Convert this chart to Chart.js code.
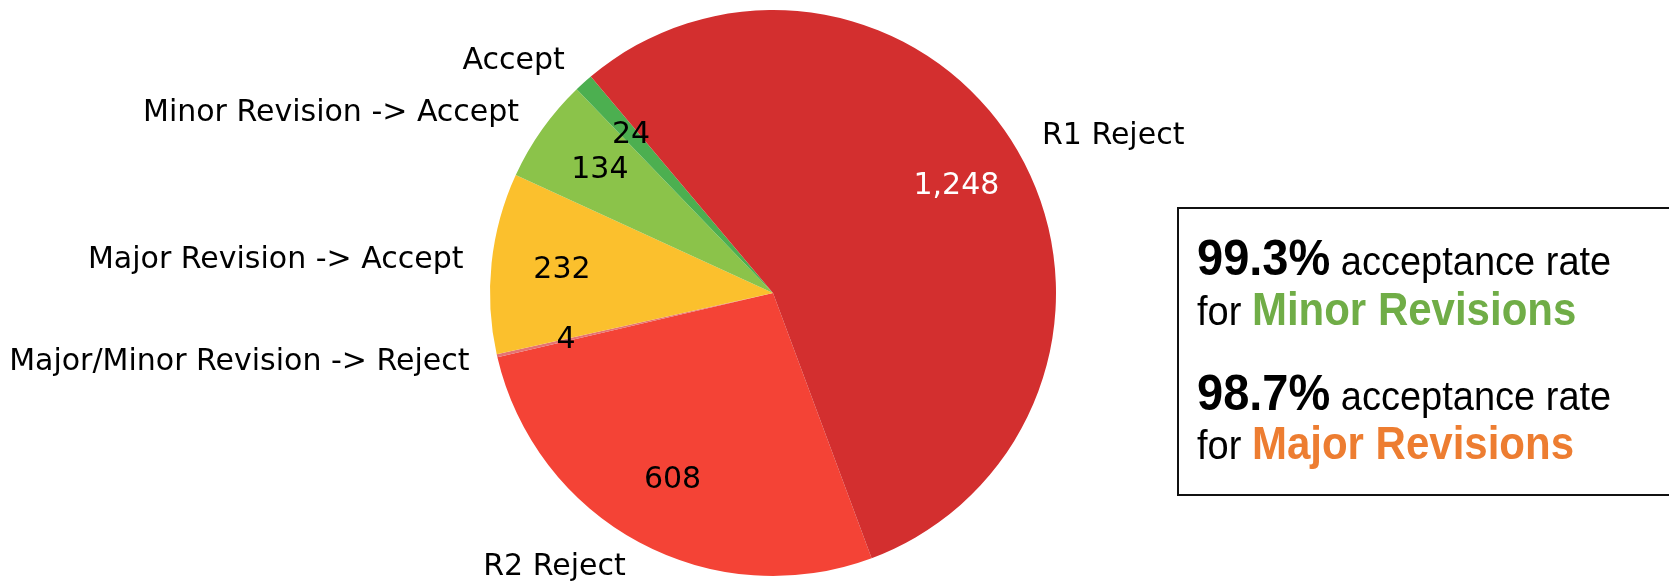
<!DOCTYPE html>
<html>
<head>
<meta charset="utf-8">
<script src="https://cdn.jsdelivr.net/npm/chart.js@4/dist/chart.umd.min.js"></script>
<style>
  html, body { margin: 0; padding: 0; background: #fff; }
  #wrap { position: relative; width: 1669px; height: 582px; overflow: hidden; }
  #note {
    position: absolute; left: 1177px; top: 207px; width: 520px; height: 289px;
    border: 2px solid #111; box-sizing: border-box;
    font-family: "Liberation Sans", Arial, sans-serif; color: #000;
  }
  #note .line { position: absolute; left: 18px; white-space: nowrap; transform: scaleY(1.08); transform-origin: 0 75%; }
  #note .big { font-weight: bold; font-size: 47px; }
  #note .reg { font-size: 38px; }
  #note .hi { font-weight: bold; font-size: 42px; }
</style>
</head>
<body>
<div id="wrap">
  <canvas id="pieChart" width="1669" height="582"></canvas>
  <div id="note">
    <div class="line" style="top:22px"><span class="big">99.3%</span><span class="reg"> acceptance rate</span></div>
    <div class="line" style="top:78px"><span class="reg">for </span><span class="hi" style="color:#70ad47">Minor Revisions</span></div>
    <div class="line" style="top:157px"><span class="big">98.7%</span><span class="reg"> acceptance rate</span></div>
    <div class="line" style="top:212px"><span class="reg">for </span><span class="hi" style="color:#ed7d31">Major Revisions</span></div>
  </div>
</div>
<script>
// slices in clockwise order, starting at the R1/R2 boundary
const categories = ['R2 Reject', 'Major/Minor Revision -> Reject', 'Major Revision -> Accept',
  'Minor Revision -> Accept', 'Accept', 'R1 Reject'];
const counts = [608, 4, 232, 134, 24, 1248];
const sliceColors = ['#f44336', '#e57373', '#fbc02d', '#8bc34a', '#4caf50', '#d32f2f'];
const valueColors = ['#000', '#000', '#000', '#000', '#000', '#fff'];

const labelFont = '30px "DejaVu Sans", sans-serif';

// draws the outside labels and the counts inside each slice
const sliceLabels = {
  id: 'sliceLabels',
  afterDatasetsDraw(chart) {
    const ctx = chart.ctx;
    const arcs = chart.getDatasetMeta(0).data;
    ctx.save();
    ctx.font = labelFont;
    ctx.textBaseline = 'middle';
    arcs.forEach((arc, i) => {
      const p = arc.getProps(['x', 'y', 'startAngle', 'endAngle', 'outerRadius'], true);
      const mid = (p.startAngle + p.endAngle) / 2;
      const cx = Math.cos(mid), cy = Math.sin(mid);
      // category name just outside the pie
      ctx.fillStyle = '#000';
      ctx.textAlign = cx >= 0 ? 'left' : 'right';
      ctx.fillText(categories[i], p.x + cx * p.outerRadius * 1.1, p.y + cy * p.outerRadius * 1.1);
      // count inside
      ctx.fillStyle = valueColors[i];
      ctx.textAlign = 'center';
      ctx.fillText(counts[i].toLocaleString('en-US'), p.x + cx * p.outerRadius * 0.75, p.y + cy * p.outerRadius * 0.75);
    });
    ctx.restore();
  }
};

new Chart(document.getElementById('pieChart').getContext('2d'), {
  type: 'pie',
  data: {
    labels: categories,
    datasets: [{
      data: counts,
      backgroundColor: sliceColors,
      borderWidth: 0
    }]
  },
  options: {
    responsive: false,
    animation: false,
    rotation: 159.6,
    layout: { padding: { left: 490, right: 613, top: 10, bottom: 6 } },
    plugins: {
      legend: { display: false },
      tooltip: { enabled: false }
    }
  },
  plugins: [sliceLabels]
});
</script>
</body>
</html>
